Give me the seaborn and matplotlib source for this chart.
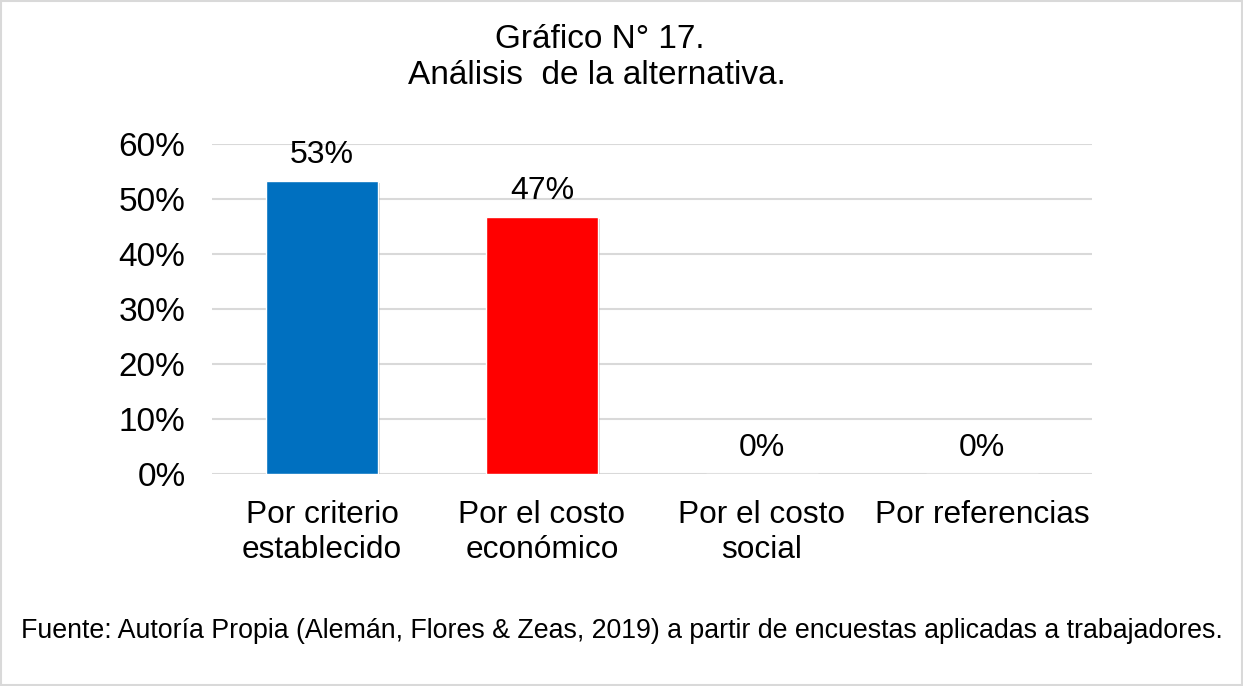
import matplotlib
matplotlib.use("Agg")
import matplotlib.pyplot as plt
import matplotlib.patheffects as pe
from matplotlib.ticker import PercentFormatter
import seaborn as sns
import pandas as pd

categories = ["Por criterio\nestablecido", "Por el costo\neconómico", "Por el costo\nsocial", "Por referencias"]
values = [0.533, 0.467, 0.0, 0.0]
labels = ["53%", "47%", "0%", "0%"]
colors = ["#0070C0", "#FF0000", "#A5A5A5", "#FFC000"]
yticks = [0, 0.1, 0.2, 0.3, 0.4, 0.5, 0.6]

sns.set_theme(style="white")
plt.rcParams['font.family'] = ['Liberation Sans', 'DejaVu Sans']

df = pd.DataFrame({"cat": categories, "val": values})

fig = plt.figure(figsize=(12.43, 6.86), dpi=100)
ax = fig.add_axes([212/1243, 1-474/686, 880/1243, 330/686])

sns.barplot(data=df, x="cat", y="val", hue="cat", palette=colors, width=0.505,
            legend=False, ax=ax, saturation=1)

for p in ax.patches:
    p.set_path_effects([pe.SimplePatchShadow(offset=(1.5, -1.5), shadow_rgbFace="#808080", alpha=0.35), pe.Normal()])

ax.set_ylim(0, 0.6)
ax.set_yticks(yticks)
ax.yaxis.set_major_formatter(PercentFormatter(1.0, decimals=0))
ax.grid(axis="y", color="#D9D9D9", linewidth=1.5)
ax.set_axisbelow(True)
for s in ax.spines.values():
    s.set_visible(False)
ax.tick_params(axis="x", length=0, labelsize=22.8, colors="black", pad=19)
ax.tick_params(axis="y", length=0, labelsize=24, colors="black", pad=19)
ax.set_xlabel("")
ax.set_ylabel("")

for i, (v, lab) in enumerate(zip(values, labels)):
    ax.annotate(lab, (i, v), xytext=(0, 8), textcoords="offset points",
                ha="center", va="bottom", fontsize=23, color="black")

fig.text(0.4825, 1-39/686, "Gráfico N° 17.", ha="center", va="center", fontsize=24, color="black")
fig.text(0.4805, 1-75/686, "Análisis  de la alternativa.", ha="center", va="center", fontsize=24, color="black")
fig.text(0.5, 1-631/686, "Fuente: Autoría Propia (Alemán, Flores & Zeas, 2019) a partir de encuestas aplicadas a trabajadores.",
         ha="center", va="center", fontsize=19.25, color="black")

border = plt.Rectangle((0.001, 0.001), 0.998, 0.997, transform=fig.transFigure,
                       fill=False, edgecolor="#D9D9D9", linewidth=1.5)
fig.patches.append(border)

fig.savefig("out.png", dpi=100, facecolor="white")
